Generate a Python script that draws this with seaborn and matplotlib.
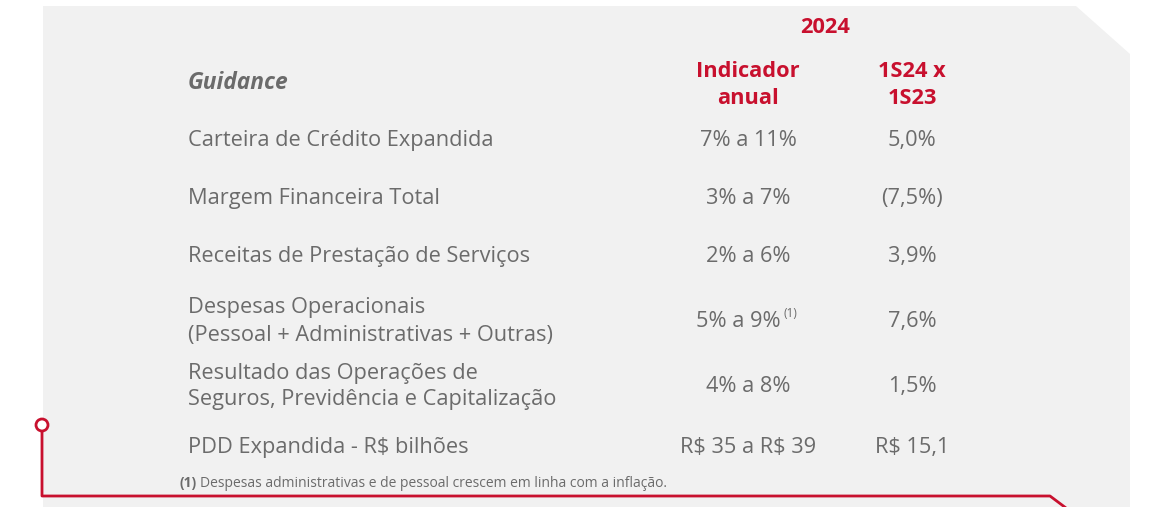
import seaborn as sns
import matplotlib.pyplot as plt
from matplotlib.patches import Polygon, Circle

sns.set_theme(style="white")
plt.rcParams['font.family'] = ['Open Sans', 'DejaVu Sans']
plt.rcParams['text.parse_math'] = False

# dados
year = "2024"
col_headers = [["Indicador", "anual"], ["1S24 x", "1S23"]]
labels = [
    ["Carteira de Crédito Expandida"],
    ["Margem Financeira Total"],
    ["Receitas de Prestação de Serviços"],
    ["Despesas Operacionais", "(Pessoal + Administrativas + Outras)"],
    ["Resultado das Operações de", "Seguros, Previdência e Capitalização"],
    ["PDD Expandida - R$ bilhões"],
]
indicador_anual = ["7% a 11%", "3% a 7%", "2% a 6%", "5% a 9%", "4% a 8%", "R$ 35 a R$ 39"]
s1_24_vs_23 = ["5,0%", "(7,5%)", "3,9%", "7,6%", "1,5%", "R$ 15,1"]
nota_row = 3
nota = "Despesas administrativas e de pessoal crescem em linha com a inflação."

RED = "#c8102e"
GREY = "#6b6b6b"
PANEL = "#f1f1f1"
FS = 15.7
LS = 27  # distância entre linhas (px)

fig = plt.figure(figsize=(11.52, 5.07), dpi=100)
ax = fig.add_axes([0, 0, 1, 1])
ax.set_xlim(0, 1152)
ax.set_ylim(507, 0)
ax.axis("off")

# painel cinza com canto cortado
ax.add_patch(Polygon([(43, 6), (1076, 6), (1130, 54), (1130, 507), (43, 507)],
                     closed=True, fc=PANEL, ec="none", zorder=0))

# linha vermelha
ax.plot([42, 42, 1050, 1066], [431, 496, 496, 508], color=RED, lw=2, zorder=2,
        solid_capstyle="butt", clip_on=False)
ax.add_patch(Circle((42, 425), 6, fc="white", ec=RED, lw=2, zorder=3))

col_x = [748, 912]
row_base = [146, 204, 262, 327, 392, 453]  # linha de base do valor em cada linha

ax.text(825, 33, year, color=RED, fontsize=FS, fontweight="bold", ha="center", va="baseline")
for x, h in zip(col_x, col_headers):
    for k, line in enumerate(h):
        ax.text(x, 77 + k * LS, line, color=RED, fontsize=FS, fontweight="bold",
                ha="center", va="baseline")
ax.text(188, 89, "Guidance", color=GREY, fontsize=16.4, fontweight="bold", style="italic",
        ha="left", va="baseline")

for i, (lab, a, b) in enumerate(zip(labels, indicador_anual, s1_24_vs_23)):
    y = row_base[i]
    y0 = y - (len(lab) - 1) * LS / 2
    for k, line in enumerate(lab):
        ax.text(188, y0 + k * LS, line, color=GREY, fontsize=FS, ha="left", va="baseline")
    if i == nota_row:
        ax.text(col_x[0] - 10, y, a, color=GREY, fontsize=FS, ha="center", va="baseline")
        ax.text(col_x[0] + 36, y - 10, "(1)", color=GREY, fontsize=8.5, ha="left", va="baseline")
    else:
        ax.text(col_x[0], y, a, color=GREY, fontsize=FS, ha="center", va="baseline")
    ax.text(col_x[1], y, b, color=GREY, fontsize=FS, ha="center", va="baseline")

ax.text(180, 487, "(1)", color=GREY, fontsize=10, fontweight="bold", ha="left", va="baseline")
ax.text(200, 487, nota, color=GREY, fontsize=10, ha="left", va="baseline")

fig.savefig("out.png", dpi=100, facecolor="white")
